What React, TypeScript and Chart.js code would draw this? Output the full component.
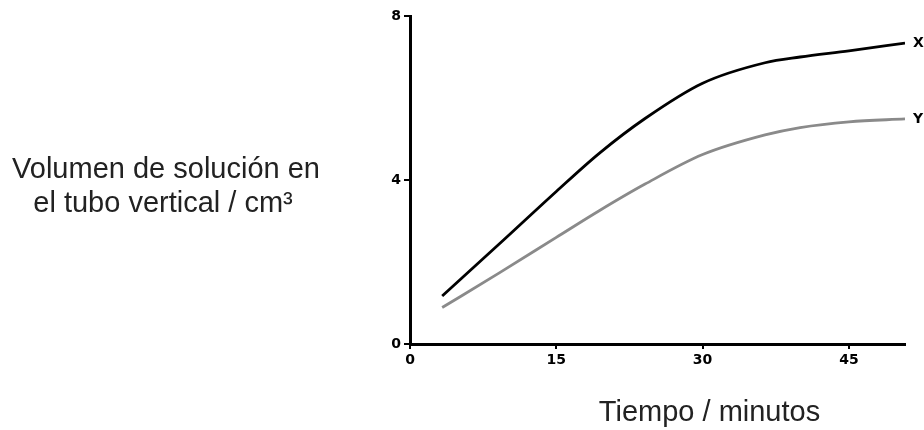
import React, { useEffect, useRef } from "react";
import { Chart, registerables } from "chart.js";

Chart.register(...registerables);

const times = [3.3, 9.2, 15, 19.4, 24.1, 30, 36.4, 40, 45, 50.75];
const seriesX = [1.17, 2.45, 3.72, 4.65, 5.5, 6.36, 6.86, 7.0, 7.15, 7.34];
const seriesY = [0.89, 1.74, 2.6, 3.25, 3.9, 4.62, 5.1, 5.28, 5.42, 5.49];
const seriesNames = ["X", "Y"];
const xTicks = [0, 15, 30, 45];
const yTicks = [0, 4, 8];
const yTitleLines = ["Volumen de solución en", "el tubo vertical / cm³"];
const xTitle = "Tiempo / minutos";

const labelsPlugin = {
  id: "customLabels",
  afterDraw(chart: any) {
    const ctx = chart.ctx;
    ctx.save();
    ctx.fillStyle = "#000";
    ctx.font = "bold 14px 'DejaVu Sans', 'Liberation Sans', sans-serif";
    ctx.textBaseline = "middle";
    ctx.textAlign = "left";
    chart.data.datasets.forEach((ds: any, i: number) => {
      const meta = chart.getDatasetMeta(i);
      const last = meta.data[meta.data.length - 1];
      if (last) ctx.fillText(ds.label, last.x + 8, last.y);
    });
    ctx.font = "29px 'Liberation Sans', Arial, sans-serif";
    ctx.fillStyle = "#222";
    ctx.textAlign = "center";
    ctx.textBaseline = "alphabetic";
    ctx.fillText(yTitleLines[0], 166, 178);
    ctx.fillText(yTitleLines[1], 163, 212);
    const ca = chart.chartArea;
    ctx.fillText(xTitle, (ca.left + ca.right) / 2 + 52, 421);
    ctx.restore();
  },
};

export default function App() {
  const ref = useRef<HTMLCanvasElement>(null);
  useEffect(() => {
    if (!ref.current) return;
    const tickFont = { family: "'DejaVu Sans', 'Liberation Sans', sans-serif", size: 14, weight: "bold" };
    const chart = new Chart(ref.current, {
      type: "line",
      data: {
        datasets: [
          {
            label: seriesNames[0],
            data: times.map((t, i) => ({ x: t, y: seriesX[i] })),
            borderColor: "#000",
            borderWidth: 2.8,
            pointRadius: 0,
            cubicInterpolationMode: "monotone",
          },
          {
            label: seriesNames[1],
            data: times.map((t, i) => ({ x: t, y: seriesY[i] })),
            borderColor: "#8a8a8a",
            borderWidth: 2.8,
            pointRadius: 0,
            cubicInterpolationMode: "monotone",
          },
        ],
      },
      options: {
        animation: false,
        responsive: false,
        layout: { padding: { left: 380, top: 16, right: 19, bottom: 61 } },
        plugins: { legend: { display: false }, tooltip: { enabled: false } },
        scales: {
          x: {
            type: "linear",
            min: 0,
            max: 50.75,
            afterBuildTicks: (s: any) => {
              s.ticks = xTicks.map((v) => ({ value: v }));
            },
            afterFit: (s: any) => {
              s.height = 25;
            },
            grid: { drawOnChartArea: false, drawTicks: true, tickLength: 5, color: "#000", lineWidth: 2 },
            border: { color: "#000", width: 3 },
            ticks: { color: "#000", font: tickFont, padding: 3, maxRotation: 0 },
          },
          y: {
            type: "linear",
            min: 0,
            max: 8,
            afterBuildTicks: (s: any) => {
              s.ticks = yTicks.map((v) => ({ value: v }));
            },
            afterFit: (s: any) => {
              s.width = 30;
            },
            grid: { drawOnChartArea: false, drawTicks: true, tickLength: 6, color: "#000", lineWidth: 2 },
            border: { color: "#000", width: 3 },
            ticks: { color: "#000", font: tickFont, padding: 3 },
          },
        },
      },
      plugins: [labelsPlugin],
    } as any);
    return () => chart.destroy();
  }, []);
  return (
    <div style={{ position: "fixed", left: 0, top: 0, width: 924, height: 430, background: "#fff" }}>
      <canvas ref={ref} width={924} height={430} />
    </div>
  );
}
